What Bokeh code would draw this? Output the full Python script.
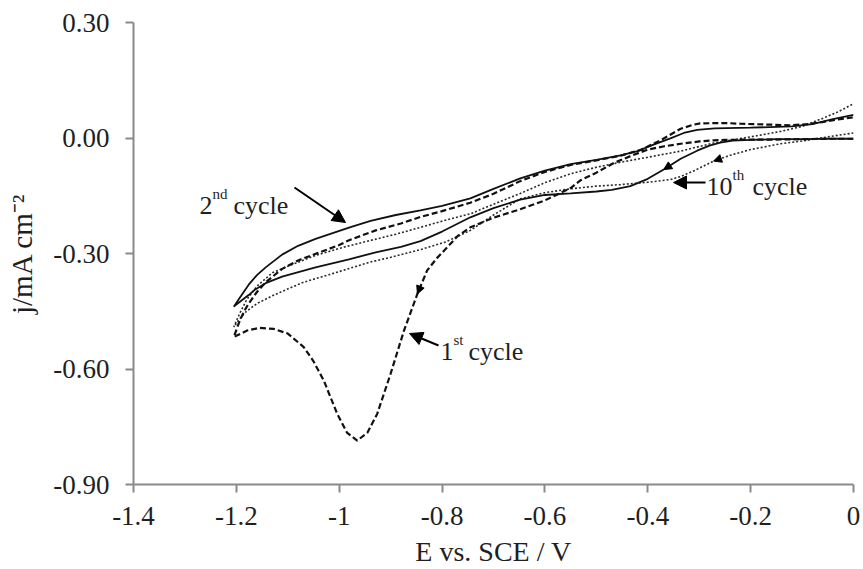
import numpy as np
from bokeh.plotting import figure
from bokeh.models import Range1d, FixedTicker, Label, Arrow, NormalHead
from bokeh.embed import file_html
from bokeh.resources import INLINE

# ---------------- data (E / V vs SCE, j / mA cm-2) ----------------
# 1st cycle (dashed): cathodic sweep from 0 V, then anodic sweep back
e_1st = [0.00, -0.05, -0.10, -0.15, -0.20, -0.25, -0.272, -0.30, -0.336, -0.37, -0.40, -0.43,
         -0.466, -0.50, -0.531, -0.55, -0.60, -0.648, -0.70, -0.745, -0.77, -0.79, -0.81, -0.829,
         -0.848, -0.874, -0.90, -0.926, -0.945, -0.965, -0.985, -1.004, -1.030, -1.050, -1.069,
         -1.10, -1.127, -1.155, -1.179, -1.205,
         -1.195, -1.185, -1.176, -1.16, -1.143, -1.111, -1.08, -1.046, -1.00, -0.982, -0.929,
         -0.88, -0.842, -0.80, -0.745, -0.70, -0.648, -0.60, -0.55, -0.50, -0.453, -0.414,
         -0.375, -0.336, -0.31, -0.298, -0.25, -0.22, -0.17, -0.123, -0.09, -0.058, -0.03, 0.00]
j_1st = [-0.002, -0.002, -0.003, -0.004, -0.004, -0.005, -0.006, -0.009, -0.015, -0.022, -0.030, -0.045,
         -0.065, -0.090, -0.110, -0.130, -0.162, -0.185, -0.207, -0.232, -0.255, -0.284, -0.312, -0.344,
         -0.405, -0.500, -0.612, -0.716, -0.765, -0.786, -0.765, -0.716, -0.630, -0.580, -0.543,
         -0.508, -0.496, -0.493, -0.500, -0.517,
         -0.480, -0.450, -0.430, -0.400, -0.375, -0.340, -0.318, -0.301, -0.278, -0.266, -0.240,
         -0.222, -0.205, -0.190, -0.168, -0.145, -0.112, -0.088, -0.070, -0.058, -0.046, -0.031,
         -0.006, 0.024, 0.035, 0.038, 0.039, 0.037, 0.035, 0.033, 0.036, 0.042, 0.048, 0.054]

# 2nd cycle (solid)
e_2nd = [0.00, -0.05, -0.10, -0.15, -0.20, -0.235, -0.259, -0.28, -0.304, -0.336, -0.369, -0.40,
         -0.434, -0.47, -0.50, -0.55, -0.60, -0.648, -0.70, -0.745, -0.80, -0.842, -0.88, -0.929,
         -0.981, -1.046, -1.111, -1.143, -1.165, -1.176, -1.19, -1.205,
         -1.195, -1.176, -1.16, -1.143, -1.111, -1.08, -1.046, -0.981, -0.939, -0.89, -0.842,
         -0.80, -0.745, -0.70, -0.648, -0.60, -0.55, -0.50, -0.453, -0.42, -0.39, -0.356, -0.33,
         -0.304, -0.27, -0.20, -0.12, -0.08, -0.04, 0.00]
j_2nd = [-0.002, -0.002, -0.003, -0.003, -0.005, -0.007, -0.012, -0.020, -0.033, -0.054, -0.082, -0.106,
         -0.125, -0.135, -0.139, -0.144, -0.148, -0.160, -0.182, -0.206, -0.243, -0.268, -0.283, -0.297,
         -0.315, -0.336, -0.360, -0.377, -0.395, -0.408, -0.422, -0.438,
         -0.418, -0.381, -0.356, -0.336, -0.303, -0.280, -0.262, -0.233, -0.215, -0.200, -0.188,
         -0.176, -0.157, -0.132, -0.105, -0.085, -0.068, -0.057, -0.045, -0.034, -0.018, -0.001, 0.013,
         0.021, 0.025, 0.027, 0.030, 0.036, 0.049, 0.060]

# 10th cycle (dotted)
e_10th = [0.00, -0.05, -0.09, -0.142, -0.20, -0.24, -0.272, -0.31, -0.336, -0.356, -0.40, -0.453,
          -0.50, -0.55, -0.60, -0.648, -0.70, -0.745, -0.793, -0.842, -0.90, -0.939, -1.02, -1.07,
          -1.10, -1.13, -1.16, -1.182, -1.195, -1.205,
          -1.195, -1.18, -1.16, -1.13, -1.10, -1.046, -0.99, -0.939, -0.89, -0.842, -0.80, -0.745,
          -0.70, -0.648, -0.60, -0.55, -0.50, -0.453, -0.40, -0.336, -0.272, -0.20, -0.142, -0.10,
          -0.058, -0.03, 0.00]
j_10th = [0.013, 0.003, -0.006, -0.015, -0.030, -0.045, -0.060, -0.085, -0.100, -0.108, -0.115, -0.121,
          -0.125, -0.132, -0.142, -0.158, -0.200, -0.240, -0.270, -0.290, -0.310, -0.322, -0.355, -0.375,
          -0.392, -0.410, -0.430, -0.452, -0.472, -0.491,
          -0.460, -0.420, -0.385, -0.350, -0.333, -0.305, -0.283, -0.266, -0.250, -0.232, -0.216, -0.197,
          -0.172, -0.144, -0.116, -0.093, -0.076, -0.063, -0.050, -0.034, -0.013, 0.003, 0.017, 0.030,
          0.052, 0.068, 0.089]

x_ticks = [-1.4, -1.2, -1.0, -0.8, -0.6, -0.4, -0.2, 0.0]
x_tick_labels = ["-1.4", "-1.2", "-1", "-0.8", "-0.6", "-0.4", "-0.2", "0"]
y_ticks = [-0.9, -0.6, -0.3, 0.0, 0.3]
y_tick_labels = ["-0.90", "-0.60", "-0.30", "0.00", "0.30"]

# ---------------- figure ----------------
W, H = 863, 569
FL, FR, FT, FB = 133, 10, 22, 85
X0, X1, Y0, Y1 = -1.4, 0.0, -0.9, 0.3
FW, FH = W - FL - FR, H - FT - FB

def dx(px):
    return X0 + (px - FL) / FW * (X1 - X0)

def dy(py):
    return Y1 - (py - FT) / FH * (Y1 - Y0)

p = figure(width=W, height=H, output_backend="svg", toolbar_location=None,
           x_range=Range1d(X0, X1), y_range=Range1d(Y0, Y1),
           min_border_left=FL, min_border_right=FR, min_border_top=FT, min_border_bottom=FB)
p.outline_line_color = None
p.grid.visible = False
p.background_fill_color = "white"
p.border_fill_color = "white"

FONT = "Liberation Serif"
TXT = "#1f1f1f"
AX = "#8a8a8a"

for ax in (p.xaxis[0], p.yaxis[0]):
    ax.axis_line_color = AX
    ax.axis_line_width = 2
    ax.major_tick_line_color = AX
    ax.major_tick_line_width = 2
    ax.major_tick_out = 8
    ax.major_tick_in = 0
    ax.minor_tick_line_color = None
    ax.major_label_text_font = FONT
    ax.major_label_text_font_size = "27px"
    ax.major_label_text_color = TXT
    ax.axis_label_text_font = FONT
    ax.axis_label_text_font_style = "normal"
    ax.axis_label_text_color = TXT

p.xaxis.ticker = FixedTicker(ticks=x_ticks)
p.xaxis.major_label_overrides = {t: l for t, l in zip(x_ticks, x_tick_labels)}
p.yaxis.ticker = FixedTicker(ticks=y_ticks)
p.yaxis.major_label_overrides = {t: l for t, l in zip(y_ticks, y_tick_labels)}
p.xaxis.major_label_standoff = 14
p.yaxis.major_label_standoff = 16

p.xaxis.axis_label = "E vs. SCE / V"
p.xaxis.axis_label_text_font_size = "28px"
p.xaxis.axis_label_standoff = 8
p.yaxis.axis_label = "j/mA cm\u207b\u00b2"
p.yaxis.axis_label_text_font_size = "29px"
p.yaxis.axis_label_standoff = 12

# ---------------- curves ----------------
p.line(e_10th, j_10th, line_color="#2a2a2a", line_width=1.6, line_dash="2 2")
p.line(e_2nd, j_2nd, line_color="#111111", line_width=1.8)
p.line(e_1st, j_1st, line_color="#111111", line_width=2.2, line_dash="6 3")

# direction arrowheads on curves (taken from the series themselves)
def curve_head(es, js, e_target, size=8):
    i = int(np.argmin(np.abs(np.array(es[:len(es) // 2 + 1]) - e_target)))
    i = max(i, 1)
    p.add_layout(Arrow(x_start=es[i - 1], y_start=js[i - 1], x_end=es[i], y_end=js[i],
                       line_alpha=0,
                       end=NormalHead(size=size, fill_color="black", line_color="black", line_width=1)))

curve_head(e_1st, j_1st, -0.848)
curve_head(e_2nd, j_2nd, -0.369)
curve_head(e_10th, j_10th, -0.272)

# ---------------- annotations ----------------
def lab(text, px, py, size, **kw):
    p.add_layout(Label(x=dx(px), y=dy(py), text=text, text_font=FONT, text_font_size=size,
                       text_color=TXT, text_baseline=kw.pop("baseline", "alphabetic"),
                       text_align=kw.pop("align", "left"), **kw))

def pointer(x0, y0, x1, y1):
    p.add_layout(Arrow(x_start=dx(x0), y_start=dy(y0), x_end=dx(x1), y_end=dy(y1),
                       line_color="black", line_width=2,
                       end=NormalHead(size=13, fill_color="black", line_color="black", line_width=1)))

lab("2", 199, 205, "26px")
lab("nd", 212, 193, "15px")
lab("cycle", 233, 205, "26px")
pointer(294, 187, 345, 222)

lab("10", 706, 186, "26px")
lab("th", 732, 174, "15px")
lab("cycle", 752, 186, "26px")
pointer(705, 182, 673, 182)

lab("1", 440, 351, "26px")
lab("st", 453, 339, "15px")
lab("cycle", 468, 351, "26px")
pointer(438, 345, 409, 333)

open("out.html", "w").write(file_html(p, INLINE))
